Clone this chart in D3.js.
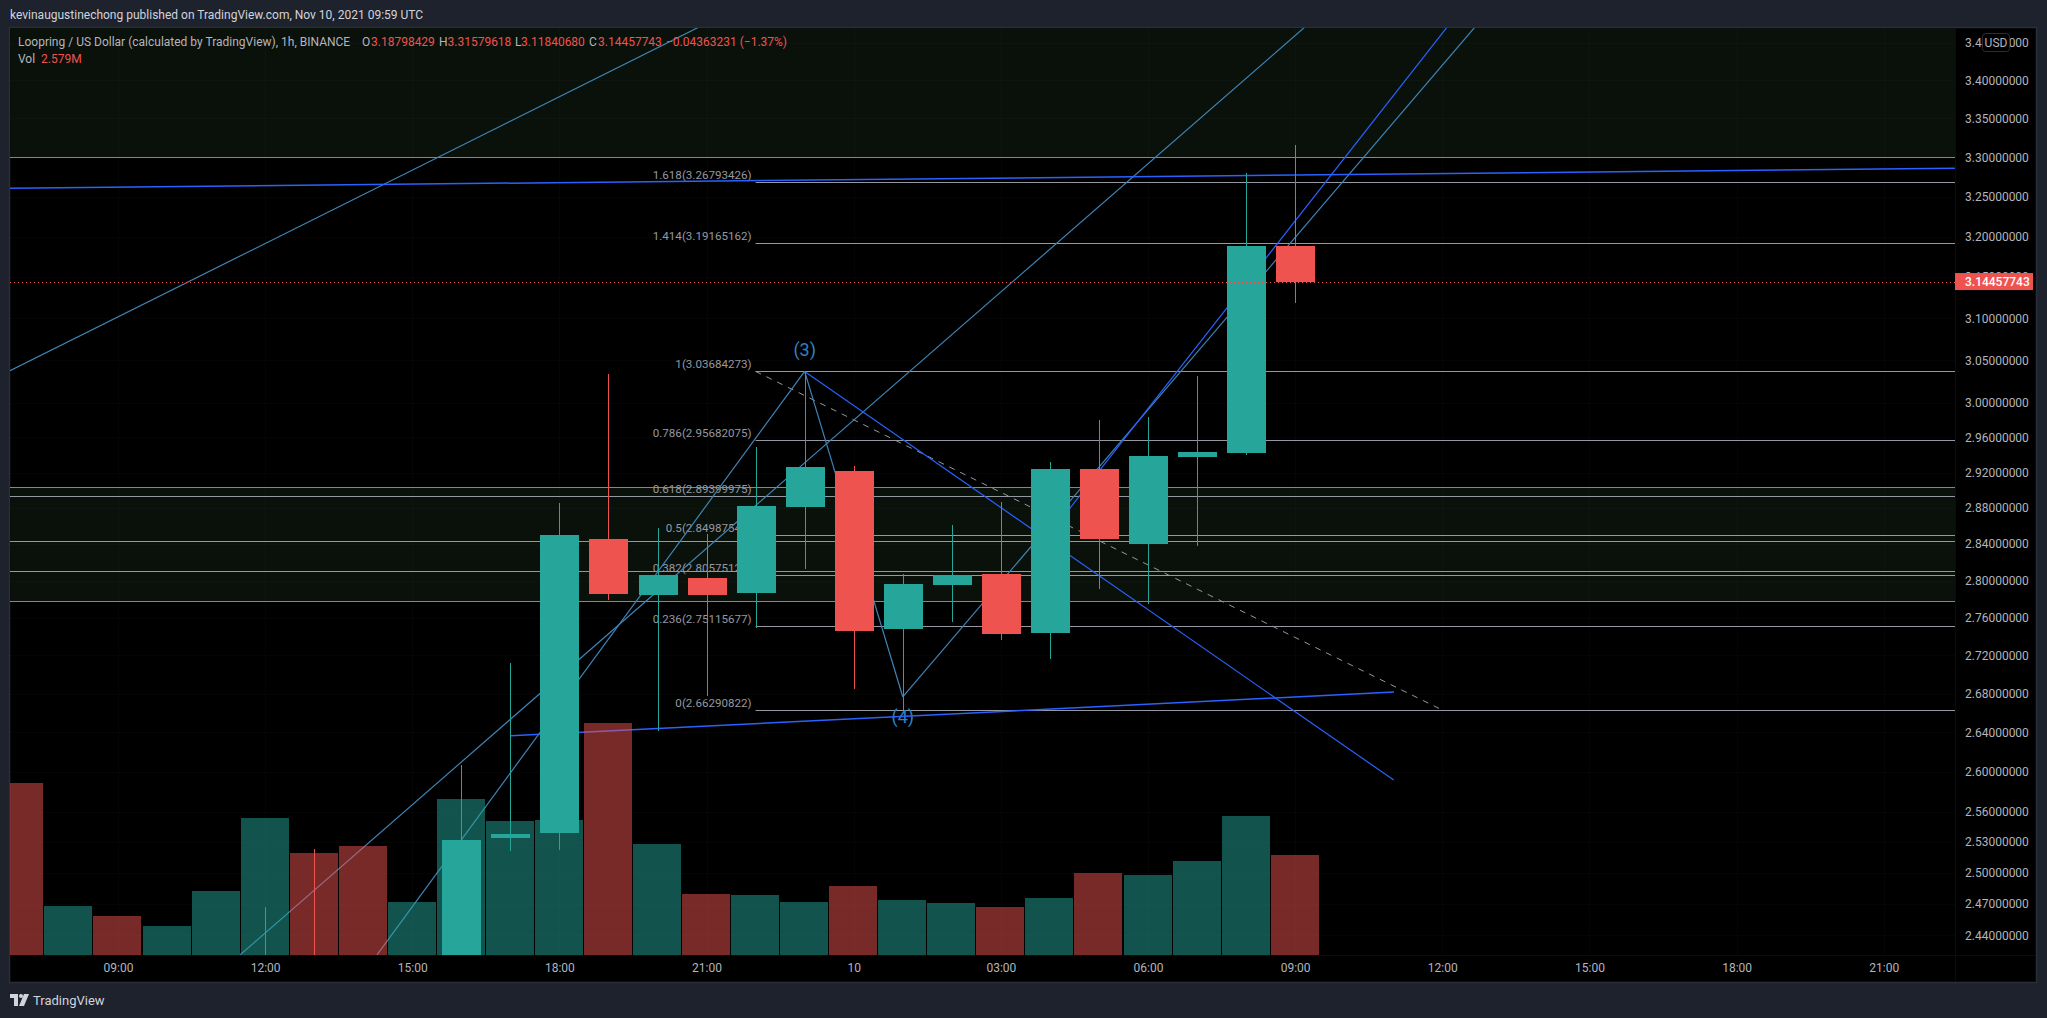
<!DOCTYPE html>
<html>
<head>
<meta charset="utf-8">
<script src="https://cdn.jsdelivr.net/npm/d3@7"></script>
<style>
    html, body { margin: 0; padding: 0; background: #1e222d; overflow: hidden; }
    svg { display: block; }
    text { font-family: Roboto, "Noto Sans", sans-serif; }
</style>
</head>
<body>
<svg id="chart" width="2047" height="1018"></svg>
<script>
// Hours are counted from Nov 9 00:00 UTC, so 24 is Nov 10 00:00
const volumeHours = d3.range(7, 34);
const volumeValues = [4.44, 1.26, 1.01, 0.75, 1.65, 3.53, 2.63, 2.81, 1.37, 4.02, 3.46, 3.48, 5.98, 2.86,
    1.57, 1.55, 1.37, 1.78, 1.42, 1.34, 1.24, 1.47, 2.11, 2.06, 2.42, 3.58, 2.579];
const volumeUp = [0, 1, 0, 1, 1, 1, 0, 0, 1, 1, 1, 1, 0, 1, 0, 1, 1, 0, 1, 1, 0, 1, 0, 1, 1, 1, 0];

const candleHours = d3.range(12, 34);
const opens = [2.38, 2.41, 2.40, 2.37, 2.40, 2.5339, 2.5388, 2.8456, 2.7844, 2.8029, 2.7866, 2.8812,
    2.9217, 2.7479, 2.7953, 2.8072, 2.7436, 2.9240, 2.8401, 2.9376, 2.9422, 3.18798429];
const highs = [2.4669, 2.5231, 2.41, 2.41, 2.6064, 2.7119, 2.8857, 3.0338, 2.8574, 2.8511, 2.9490, 3.03684,
    2.9274, 2.8072, 2.8611, 2.8868, 2.9319, 2.9801, 2.9836, 3.0314, 3.2799, 3.31579618];
const lows = [2.37, 2.38, 2.36, 2.36, 2.39, 2.5214, 2.5221, 2.7794, 2.6416, 2.6774, 2.7487, 2.8127,
    2.6847, 2.6629, 2.7554, 2.7362, 2.7161, 2.7909, 2.7747, 2.8379, 2.9399, 3.1184068];
const closes = [2.40, 2.39, 2.37, 2.40, 2.5319, 2.5378, 2.8500, 2.7858, 2.8061, 2.7844, 2.8823, 2.9262,
    2.7458, 2.7964, 2.8061, 2.7426, 2.9240, 2.8456, 2.9388, 2.9433, 3.1882, 3.14457743];

const priceTicks = [3.45, 3.40, 3.35, 3.30, 3.25, 3.20, 3.15, 3.10, 3.05, 3.00, 2.96, 2.92, 2.88, 2.84,
    2.80, 2.76, 2.72, 2.68, 2.64, 2.60, 2.56, 2.53, 2.50, 2.47, 2.44];
const timeTicks = [9, 12, 15, 18, 21, 24, 27, 30, 33, 36, 39, 42, 45];
const timeLabels = ["09:00", "12:00", "15:00", "18:00", "21:00", "10", "03:00", "06:00", "09:00",
    "12:00", "15:00", "18:00", "21:00"];

const fibRatios = ["1.618", "1.414", "1", "0.786", "0.618", "0.5", "0.382", "0.236", "0"];
const fibPrices = [3.26793426, 3.19165162, 3.03684273, 2.95682075, 2.89399975, 2.84987548, 2.80575120,
    2.75115677, 2.66290822];

const greyLevels = [2.8930, 2.8431, 2.8102];
const greenLevels = [3.30, 2.9034, 2.7778];

// Trend lines: [hour, price, hour, price]
const steelLines = [
    [6.8, 3.0376, 20.85, 3.4711],
    [11.488, 2.4215, 33.2, 3.4711],
    [14.281, 2.4215, 23, 3.03684],
    [23, 3.03684, 25, 2.6766],
    [25, 2.6766, 36.667, 3.4711]
];
const blueLines = [
    [6.8, 3.2605, 46.45, 3.2859],
    [17, 2.6365, 35.015, 2.6815],
    [23, 3.03684, 35.01, 2.5915],
    [28, 2.8514, 36.1, 3.4711]
];
const fibTrend = [22, 3.03684273, 36, 2.66290822];
const waveLabels = [["(3)", 23, 3.0601], ["(4)", 25, 2.6539]];

const svg = d3.select("#chart");

const plotLeft = 10, plotRight = 1955, plotTop = 28, plotBottom = 955, outerRight = 2036, outerBottom = 982;

const x = d3.scaleLinear().domain([18, 42]).range([559.4, 1736.6]);
const y = d3.scaleLog().domain([3.4, 2.44]).range([80.3, 935.3]);
const volY = d3.scaleLinear().domain([0, 2.579]).range([plotBottom, 855]);

const UP = "#26a69a", DOWN = "#ef5350", STEEL = "#3f84b6", BLUE = "#2962ff";
const GREY = "#9598a1", GREEN = "#4caf50", TEXT = "#b2b5be";

// Frame and panes
svg.append("rect").attr("width", 2047).attr("height", 1018).attr("fill", "#1e222d");
svg.append("rect").attr("x", plotLeft - 0.5).attr("y", plotTop - 0.5)
    .attr("width", outerRight - plotLeft + 1).attr("height", outerBottom - plotTop + 1)
    .attr("fill", "#000").attr("stroke", "#2a2e39").attr("stroke-width", 1.5);

svg.append("clipPath").attr("id", "plot").append("rect")
    .attr("x", plotLeft).attr("y", plotTop).attr("width", plotRight - plotLeft).attr("height", plotBottom - plotTop);

const plot = svg.append("g").attr("clip-path", "url(#plot)");

// Green zones
plot.append("rect").attr("x", plotLeft).attr("y", plotTop).attr("width", plotRight - plotLeft)
    .attr("height", y(greenLevels[0]) - plotTop).attr("fill", "#0a110a");
plot.append("rect").attr("x", plotLeft).attr("y", y(greenLevels[1])).attr("width", plotRight - plotLeft)
    .attr("height", y(greenLevels[2]) - y(greenLevels[1])).attr("fill", "#0a110a");

// Faint grid
plot.append("g").selectAll("line").data(priceTicks).enter().append("line")
    .attr("x1", plotLeft).attr("x2", plotRight)
    .attr("y1", d => Math.round(y(d)) + 0.5).attr("y2", d => Math.round(y(d)) + 0.5)
    .attr("stroke", "#f0f3fa").attr("stroke-opacity", 0.02);
plot.append("g").selectAll("line").data(timeTicks).enter().append("line")
    .attr("y1", plotTop).attr("y2", plotBottom)
    .attr("x1", d => Math.round(x(d)) + 0.5).attr("x2", d => Math.round(x(d)) + 0.5)
    .attr("stroke", "#f0f3fa").attr("stroke-opacity", 0.02);

// Horizontal levels
plot.append("g").selectAll("line").data(greenLevels).enter().append("line")
    .attr("x1", plotLeft).attr("x2", plotRight)
    .attr("y1", d => Math.round(y(d)) + 0.5).attr("y2", d => Math.round(y(d)) + 0.5)
    .attr("stroke", GREEN);
plot.append("g").selectAll("line").data(greyLevels).enter().append("line")
    .attr("x1", plotLeft).attr("x2", plotRight)
    .attr("y1", d => Math.round(y(d)) + 0.5).attr("y2", d => Math.round(y(d)) + 0.5)
    .attr("stroke", GREY);

// Fib levels and their labels
plot.append("g").selectAll("line").data(fibPrices).enter().append("line")
    .attr("x1", x(fibTrend[0])).attr("x2", plotRight)
    .attr("y1", d => Math.round(y(d)) + 0.5).attr("y2", d => Math.round(y(d)) + 0.5)
    .attr("stroke", GREY);
plot.append("g").selectAll("text").data(fibPrices).enter().append("text")
    .attr("x", x(fibTrend[0]) - 4)
    .attr("y", d => y(d) - 3)
    .attr("text-anchor", "end")
    .attr("font-size", 11.6)
    .attr("fill", GREY)
    .text((d, i) => `${fibRatios[i]}(${d.toFixed(8)})`);

plot.append("line")
    .attr("x1", x(fibTrend[0])).attr("y1", y(fibTrend[1]))
    .attr("x2", x(fibTrend[2])).attr("y2", y(fibTrend[3]))
    .attr("stroke", GREY).attr("stroke-dasharray", "6 6");

// Wave labels go under the trend lines
plot.append("g").selectAll("text").data(waveLabels).enter().append("text")
    .attr("x", d => x(d[1]))
    .attr("y", d => y(d[2]))
    .attr("text-anchor", "middle")
    .attr("dominant-baseline", "middle")
    .attr("font-size", 18)
    .attr("fill", "#2f80c2")
    .text(d => d[0]);

// Trend lines
plot.append("g").selectAll("line").data(steelLines).enter().append("line")
    .attr("x1", d => x(d[0])).attr("y1", d => y(d[1]))
    .attr("x2", d => x(d[2])).attr("y2", d => y(d[3]))
    .attr("stroke", STEEL).attr("stroke-width", 1.2);
plot.append("g").selectAll("line").data(blueLines).enter().append("line")
    .attr("x1", d => x(d[0])).attr("y1", d => y(d[1]))
    .attr("x2", d => x(d[2])).attr("y2", d => y(d[3]))
    .attr("stroke", BLUE).attr("stroke-width", (d, i) => i < 2 ? 1.5 : 1.2);

// Volume sits over the drawings, half transparent
plot.append("g").selectAll("rect").data(volumeValues).enter().append("rect")
    .attr("x", (d, i) => Math.round(x(volumeHours[i]) - 24.5))
    .attr("width", 48)
    .attr("y", d => volY(d))
    .attr("height", d => plotBottom - volY(d))
    .attr("fill", (d, i) => volumeUp[i] ? UP : DOWN)
    .attr("fill-opacity", 0.5)
    .attr("shape-rendering", "crispEdges");

// Candles
const candles = plot.append("g").selectAll("g").data(candleHours).enter().append("g")
    .attr("shape-rendering", "crispEdges")
    .attr("fill", (d, i) => closes[i] >= opens[i] ? UP : DOWN);
candles.append("rect")
    .attr("x", d => Math.round(x(d)))
    .attr("width", 1)
    .attr("y", (d, i) => y(highs[i]))
    .attr("height", (d, i) => y(lows[i]) - y(highs[i]));
candles.append("rect")
    .attr("x", d => Math.round(x(d)) - 19)
    .attr("width", 39)
    .attr("y", (d, i) => y(Math.max(opens[i], closes[i])))
    .attr("height", (d, i) => y(Math.min(opens[i], closes[i])) - y(Math.max(opens[i], closes[i])));

// Last price line
const lastPrice = closes[closes.length - 1];
plot.append("line")
    .attr("x1", plotLeft).attr("x2", plotRight)
    .attr("y1", Math.round(y(lastPrice)) + 0.5).attr("y2", Math.round(y(lastPrice)) + 0.5)
    .attr("stroke", DOWN).attr("stroke-dasharray", "1 3");

// Axes
svg.append("line").attr("x1", plotRight + 0.5).attr("x2", plotRight + 0.5).attr("y1", plotTop).attr("y2", outerBottom)
    .attr("stroke", "#0b0c0e");
svg.append("line").attr("x1", plotLeft).attr("x2", outerRight).attr("y1", plotBottom + 0.5).attr("y2", plotBottom + 0.5)
    .attr("stroke", "#0b0c0e");

const yAxis = svg.append("g")
    .attr("transform", `translate(${plotRight},0)`)
    .call(d3.axisRight(y).tickValues(priceTicks).tickFormat(d3.format(".8f")).tickSize(0).tickPadding(10));
const xAxis = svg.append("g")
    .attr("transform", `translate(0,${plotBottom})`)
    .call(d3.axisBottom(x).tickValues(timeTicks).tickFormat((d, i) => timeLabels[i]).tickSize(0).tickPadding(8));
[yAxis, xAxis].forEach(axis => {
    axis.select(".domain").remove();
    axis.selectAll("text")
        .attr("font-family", "Roboto, sans-serif")
        .attr("font-size", 12)
        .attr("fill", TEXT);
});

// Last price tag
svg.append("rect").attr("x", plotRight).attr("y", y(lastPrice) - 8.5).attr("width", 78).attr("height", 17)
    .attr("fill", DOWN);
svg.append("text").attr("x", plotRight + 10).attr("y", y(lastPrice) + 4.5)
    .attr("font-size", 12).attr("font-weight", 500).attr("fill", "#fff").text(lastPrice.toFixed(8));

// Currency badge
svg.append("rect").attr("x", 1982.5).attr("y", 33.5).attr("width", 27).attr("height", 18).attr("rx", 3)
    .attr("fill", "#000").attr("stroke", "#2a2e39");
svg.append("text").attr("x", 1996).attr("y", 47).attr("text-anchor", "middle")
    .attr("font-size", 12).attr("fill", TEXT).text("USD");

// Header and legend
svg.append("text").attr("x", 10).attr("y", 19).attr("font-size", 12).attr("fill", "#d1d4dc")
    .text("kevinaugustinechong published on TradingView.com, Nov 10, 2021 09:59 UTC");

const legendPieces = [
    ["Loopring / US Dollar (calculated by TradingView), 1h, BINANCE", 18, TEXT],
    ["O", 362, TEXT], ["3.18798429", 371, DOWN],
    ["H", 439, TEXT], ["3.31579618", 447.5, DOWN],
    ["L", 515, TEXT], ["3.11840680", 521, DOWN],
    ["C", 589, TEXT], ["3.14457743", 598, DOWN],
    ["−0.04363231 (−1.37%)", 666, DOWN]
];
svg.append("g").selectAll("text").data(legendPieces).enter().append("text")
    .attr("x", d => d[1]).attr("y", 46).attr("font-size", 12).attr("fill", d => d[2]).text(d => d[0]);
svg.append("text").attr("x", 18).attr("y", 63).attr("font-size", 12).attr("fill", TEXT).text("Vol");
svg.append("text").attr("x", 41).attr("y", 63).attr("font-size", 12).attr("fill", DOWN).text("2.579M");

// Brand mark
const brand = svg.append("g").attr("transform", "translate(10,994)").attr("fill", "#d1d4dc");
brand.append("path").attr("d", "M0 0H8V12H4V4H0Z");
brand.append("circle").attr("cx", 11).attr("cy", 2).attr("r", 2);
brand.append("path").attr("d", "M14 0H19L14 12H9Z");
svg.append("text").attr("x", 33).attr("y", 1005).attr("font-size", 13).attr("fill", "#d1d4dc").text("TradingView");
</script>
</body>
</html>
